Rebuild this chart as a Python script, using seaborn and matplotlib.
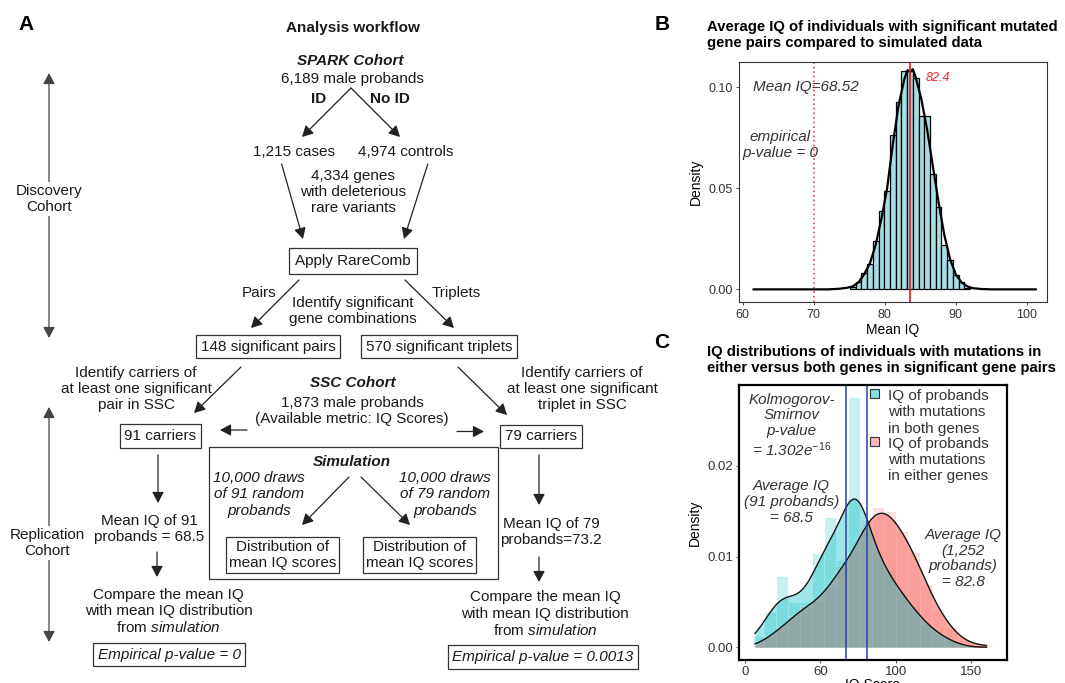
import numpy as np
import pandas as pd
import seaborn as sns
import matplotlib.pyplot as plt
from matplotlib.patches import Rectangle, Patch

# ---- panel B: mean IQ of 10,000 simulated draws (histogram)
sim_bin_centers = [75.50, 76.31, 77.11, 77.92, 78.72, 79.53, 80.33, 81.14, 81.94, 82.75,
                   83.55, 84.36, 85.16, 85.97, 86.77, 87.58, 88.38, 89.19, 89.99, 90.80, 91.60]
sim_density = [0.0010, 0.0036, 0.0083, 0.0124, 0.0238, 0.0390, 0.0485, 0.0766, 0.0927, 0.1080,
               0.1080, 0.1046, 0.0856, 0.0856, 0.0570, 0.0410, 0.0220, 0.0144, 0.0073, 0.0036, 0.0007]
# density curve drawn over the histogram (read at the same positions + flat tails)
sim_curve_x = [61.5, 72.0, 73.6, 74.7, 75.50, 76.31, 77.11, 77.92, 78.72, 79.53, 80.33, 81.14,
               81.94, 82.75, 83.20, 83.55, 83.95, 84.36, 85.16, 85.97, 86.77, 87.58, 88.38,
               89.19, 89.99, 90.80, 91.60, 92.4, 93.5, 95.0, 101.3]
sim_curve_y = [0.0, 0.0, 0.0003, 0.0008, 0.0015, 0.0035, 0.0075, 0.0130, 0.0220, 0.0350, 0.0500,
               0.0720, 0.0910, 0.1040, 0.1085, 0.1075, 0.1090, 0.1050, 0.0940, 0.0790, 0.0610,
               0.0430, 0.0270, 0.0150, 0.0075, 0.0035, 0.0015, 0.0006, 0.0002, 0.0, 0.0]
observed_mean_x = 70.0
simulated_mean_x = 83.6
observed_label = 'Mean IQ=68.52'
simulated_label = '82.4'

# ---- panel C: IQ of probands with mutations in both / either genes
iq_bin_centers = [8.4, 16.4, 24.4, 32.4, 40.4, 48.4, 56.4, 64.4, 72.4, 80.4,
                  88.4, 96.4, 104.4, 112.4, 120.4, 128.4, 136.4, 144.4, 152.4, 160.4]
both_density = [0.0012, 0.0039, 0.0079, 0.0050, 0.0050, 0.0104, 0.0144, 0.0096, 0.0276, 0.0130,
                0.0100, 0.0085, 0.0060, 0.0045, 0.0025, 0.0015, 0.0008, 0.0, 0.0, 0.0]
either_density = [0.0003, 0.0012, 0.0022, 0.0035, 0.0045, 0.0052, 0.0068, 0.0090, 0.0105, 0.0140,
                  0.0155, 0.0150, 0.0128, 0.0105, 0.0070, 0.0042, 0.0022, 0.0008, 0.0003, 0.0002]
group_mean_lines = [66.8, 80.8]
group_labels = ['IQ of probands\nwith mutations\nin both genes',
                'IQ of probands\nwith mutations\nin either genes']
iq_ticks = [0, 50, 100, 150]
iq_tick_labels = ['0', '60', '100', '150']

teal = '#00BFC4'
salmon = '#F8766D'

sns.set_theme(style='ticks')
plt.rcParams['font.family'] = ['Liberation Sans', 'DejaVu Sans']
plt.rcParams['mathtext.fontset'] = 'custom'
plt.rcParams['mathtext.rm'] = 'Liberation Sans'
plt.rcParams['mathtext.it'] = 'Liberation Sans:italic'
plt.rcParams['mathtext.bf'] = 'Liberation Sans:bold'

fig = plt.figure(figsize=(10.65, 6.83), dpi=100)

# ================= panel A : workflow (pixel coordinates) =================
axA = fig.add_axes([0, 0, 1, 1])
axA.set_xlim(0, 1065)
axA.set_ylim(683, 0)
axA.axis('off')
ink = '#1a1a1a'


def label(x, y, s, **kw):
    kw.setdefault('fontsize', 11)
    axA.text(x, y, s, ha='center', va='center', color=ink, linespacing=1.2, **kw)


def boxed(x, y, s, pad=0.3, **kw):
    kw.setdefault('fontsize', 11)
    axA.text(x, y, s, ha='center', va='center', color=ink, linespacing=1.2,
             bbox=dict(boxstyle=f'square,pad={pad}', fc='white', ec='#333333', lw=0.9), **kw)


def arrow(x0, y0, x1, y1, style='-|>', color='#222222'):
    axA.annotate('', xy=(x1, y1), xytext=(x0, y0),
                 arrowprops=dict(arrowstyle=style + ',head_length=0.6,head_width=0.32',
                                 mutation_scale=11, lw=0.9, color=color,
                                 shrinkA=0, shrinkB=0))


axA.text(26, 25, 'A', fontsize=15, fontweight='bold', ha='center', va='center', color='black')
label(353, 28, 'Analysis workflow', fontweight='bold')
label(350, 61, 'SPARK Cohort', fontweight='bold', style='italic')
label(352, 79, '6,189 male probands')
label(319, 99, 'ID', fontweight='bold')
label(390, 99, 'No ID', fontweight='bold')
arrow(351, 88, 302, 137)
arrow(351, 88, 400, 137)
label(294, 152, '1,215 cases')
label(406, 152, '4,974 controls')
label(353, 192, '4,334 genes\nwith deleterious\nrare variants')
arrow(281.6, 164, 303, 239)
arrow(427.8, 164, 404, 239)
boxed(353, 261, 'Apply RareComb', pad=0.4)
arrow(299, 280, 251, 328)
arrow(405, 280, 454, 328)
label(259, 293, 'Pairs')
label(456, 293, 'Triplets')
label(353, 311, 'Identify significant\ngene combinations')
boxed(268, 346.7, '148 significant pairs')
boxed(439, 346.7, '570 significant triplets')
label(136, 389, 'Identify carriers of\nat least one significant\npair in SSC')
label(582, 389, 'Identify carriers of\nat least one significant\ntriplet in SSC')
arrow(241, 367, 194, 413)
arrow(458, 367, 507, 415)
label(353, 383, 'SSC Cohort', fontweight='bold', style='italic')
label(352, 411, '1,873 male probands\n(Available metric: IQ Scores)')
arrow(247, 430, 220, 430)
arrow(457, 431.5, 484, 431.5)
boxed(160.5, 436, '91 carriers')
boxed(541, 436.5, '79 carriers')

axA.add_patch(Rectangle((208.6, 447.3), 289.4, 132, fill=False, ec='#333333', lw=0.9))
label(352, 462, 'Simulation', fontweight='bold', style='italic')
label(259, 494.5, '10,000 draws\nof 91 random\nprobands', style='italic')
label(445, 494.5, '10,000 draws\nof 79 random\nprobands', style='italic')
arrow(349, 477, 302, 525)
arrow(361, 477, 410, 525)
boxed(282.6, 555, 'Distribution of\nmean IQ scores', pad=0.2)
boxed(419.3, 555, 'Distribution of\nmean IQ scores', pad=0.2)

arrow(158, 455, 158, 503)
label(149, 529, 'Mean IQ of 91\nprobands = 68.5')
arrow(157, 552, 157, 577)
label(168.6, 611.7, 'Compare the mean IQ\nwith mean IQ distribution\nfrom $\\mathit{simulation}$')
boxed(169.4, 654.5, 'Empirical p-value = 0', style='italic')

arrow(539, 455, 539, 505)
label(551, 532, 'Mean IQ of 79\nprobands=73.2')
arrow(539, 557, 539, 582)
label(545, 614.3, 'Compare the mean IQ\nwith mean IQ distribution\nfrom $\\mathit{simulation}$')
boxed(543, 657, 'Empirical p-value = 0.0013', style='italic')

arrow(49, 338, 49, 73, style='<|-|>', color='#444444')
axA.text(49, 199, 'Discovery\nCohort', ha='center', va='center', fontsize=11, color=ink,
         linespacing=1.2, bbox=dict(boxstyle='square,pad=0.1', fc='white', ec='none'))
arrow(49, 642, 49, 407, style='<|-|>', color='#444444')
axA.text(47, 543, 'Replication\nCohort', ha='center', va='center', fontsize=11, color=ink,
         linespacing=1.2, bbox=dict(boxstyle='square,pad=0.1', fc='white', ec='none'))

# panel titles / letters for B and C
axA.text(662, 25, 'B', fontsize=15, fontweight='bold', ha='center', va='center', color='black')
axA.text(706.7, 20, 'Average IQ of individuals with significant mutated\ngene pairs compared to simulated data',
         ha='left', va='top', fontsize=10.7, fontweight='bold', color='black', linespacing=1.22)
axA.text(662, 343, 'C', fontsize=15, fontweight='bold', ha='center', va='center', color='black')
axA.text(706.7, 345, 'IQ distributions of individuals with mutations in\neither versus both genes in significant gene pairs',
         ha='left', va='top', fontsize=10.7, fontweight='bold', color='black', linespacing=1.22)

# ================= panel B =================
axB = fig.add_axes([739.3 / 1065, 1 - 302.3 / 683, 307.4 / 1065, 240.6 / 683])
sns.histplot(x=sim_bin_centers, weights=sim_density, bins=21, binrange=(75.1, 92.0),
             stat='count', color='#a6dce3', alpha=1, edgecolor='black', linewidth=0.9, ax=axB)
sns.lineplot(x=sim_curve_x, y=sim_curve_y, sort=False, estimator=None,
             color='black', linewidth=1.6, ax=axB)
axB.axvline(observed_mean_x, color='#e8262a', lw=1.1, ls=(0, (1, 2)))
axB.axvline(simulated_mean_x, color='#e8262a', lw=1.3)
axB.text(61.4, 0.1003, observed_label, style='italic', fontsize=11, color='#333333',
         ha='left', va='center')
axB.text(65.25, 0.0715, 'empirical\np-value = 0', style='italic', fontsize=11, color='#333333',
         ha='center', va='center', linespacing=1.2)
axB.text(87.55, 0.1048, simulated_label, style='italic', fontsize=9, color='#e8262a',
         ha='center', va='center')
axB.set_xlim(59.52, 102.8)
axB.set_ylim(-0.0064, 0.1127)
axB.set_xticks([60, 70, 80, 90, 100])
axB.set_yticks([0, 0.05, 0.10])
axB.set_yticklabels(['0.00', '0.05', '0.10'])
axB.set_xlabel('Mean IQ', fontsize=10, color='black', labelpad=2)
axB.set_ylabel('Density', fontsize=10, color='black', labelpad=4)
for s in axB.spines.values():
    s.set_visible(True)
    s.set_color('#333333')
    s.set_linewidth(0.8)
axB.tick_params(labelsize=9, colors='#333333', length=2.5, width=0.6, pad=2)

# ================= panel C =================
axC = fig.add_axes([739.3 / 1065, 1 - 660 / 683, 267.4 / 1065, 275 / 683])
sns.histplot(x=iq_bin_centers, weights=both_density, bins=20, binrange=(4.4, 164.4),
             stat='count', color=teal, alpha=0.22, edgecolor='white', linewidth=0.6, ax=axC)
sns.histplot(x=iq_bin_centers, weights=either_density, bins=20, binrange=(4.4, 164.4),
             stat='count', color=salmon, alpha=0.22, edgecolor='white', linewidth=0.6, ax=axC)
sns.kdeplot(x=iq_bin_centers, weights=either_density, bw_method=0.24, clip=(6.6, 160.4), cut=10,
            fill=True, color=salmon, alpha=0.62, linewidth=0, ax=axC)
sns.kdeplot(x=iq_bin_centers, weights=either_density, bw_method=0.24, clip=(6.6, 160.4), cut=10,
            color='#111111', linewidth=1.0, ax=axC)
sns.kdeplot(x=iq_bin_centers, weights=both_density, bw_method=0.32, clip=(6.6, 160.4), cut=10,
            fill=True, color=teal, alpha=0.38, linewidth=0, ax=axC)
sns.kdeplot(x=iq_bin_centers, weights=both_density, bw_method=0.32, clip=(6.6, 160.4), cut=10,
            color='#111111', linewidth=1.0, ax=axC)
for xv in group_mean_lines:
    axC.axvline(xv, color='#2b3fb0', lw=1.1)

axC.text(31.0, 0.0244, 'Kolmogorov-\nSmirnov\np-value\n= 1.302e$^{-16}$', style='italic',
         fontsize=11, color='#333333', ha='center', va='center', linespacing=1.15)
axC.text(31.0, 0.0160, 'Average IQ\n(91 probands)\n= 68.5', style='italic',
         fontsize=11, color='#333333', ha='center', va='center', linespacing=1.15)
axC.text(144.7, 0.0098, 'Average IQ\n(1,252\nprobands)\n= 82.8', style='italic',
         fontsize=11, color='#333333', ha='center', va='center', linespacing=1.15)

handles = [Patch(facecolor=(0.0, 0.75, 0.77, 0.5), edgecolor='#333333', lw=0.8),
           Patch(facecolor=(0.97, 0.46, 0.43, 0.5), edgecolor='#333333', lw=0.8)]
leg = axC.legend(handles, group_labels, loc='upper left', bbox_to_anchor=(0.49, 0.985),
                 frameon=False, fontsize=11, handlelength=0.55, handleheight=0.55,
                 handletextpad=0.6, labelspacing=0.1, borderaxespad=0, borderpad=0)
for col in leg._legend_handle_box.get_children():
    for row in col.get_children():
        row.align = 'top'
for t in leg.get_texts():
    t.set_color('#333333')

axC.set_xlim(-3.8, 173.7)
axC.set_ylim(-0.0014, 0.0289)
axC.set_xticks(iq_ticks)
axC.set_xticklabels(iq_tick_labels)
axC.set_yticks([0, 0.01, 0.02])
axC.set_yticklabels(['0.00', '0.01', '0.02'])
axC.set_xlabel('IQ Score', fontsize=10, color='black', labelpad=0.5)
axC.set_ylabel('Density', fontsize=10, color='black', labelpad=4)
for s in axC.spines.values():
    s.set_visible(True)
    s.set_color('black')
    s.set_linewidth(1.6)
axC.tick_params(labelsize=9.5, colors='#333333', length=2.5, width=0.6, pad=1.5)

fig.savefig('out.png', dpi=100)
